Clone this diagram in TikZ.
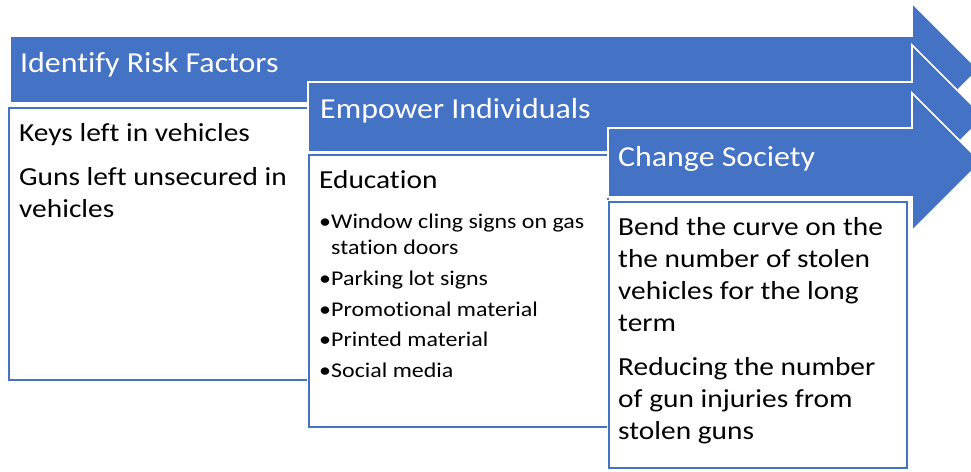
\documentclass[tikz,border=0pt]{standalone}
\usepackage{fontspec}
\setmainfont{Carlito}[Ligatures=NoCommon]
\newfontfamily\hdrfont{Carlito}[FakeStretch=1.10, Ligatures=NoCommon]
\newfontfamily\bodyfont{Carlito}[FakeStretch=1.13, Ligatures=NoCommon]
\newfontfamily\smallfont{Carlito}[FakeStretch=1.14, Ligatures=NoCommon]
\definecolor{ablue}{HTML}{4472C4}
\tikzset{
  arrowshape/.style={fill=ablue, draw=white, line width=1.6pt, line join=miter},
  boxouter/.style={fill=white, draw=white, line width=4pt},
  boxinner/.style={draw=ablue, line width=1.6pt},
  hdr/.style={font=\hdrfont\fontsize{29}{35}\selectfont, text=white, inner sep=0pt, anchor=base west},
  body/.style={font=\bodyfont\fontsize{26}{32}\selectfont, text=black, inner sep=0pt, anchor=base west},
  small/.style={font=\smallfont\fontsize{21}{26}\selectfont, text=black, inner sep=0pt, anchor=base west},
}
\begin{document}
\begin{tikzpicture}[x=1pt,y=-1pt]
\useasboundingbox (0,0) rectangle (971,471);
\fill[white] (0,0) rectangle (971,471);
\clip (0,0) rectangle (971,471);
% arrow 1
\draw[arrowshape] (10,36) -- (912,36) -- (912,3) -- (978.5,69.5) -- (912,136) -- (912,103) -- (10,103) -- cycle;
% box 1
\draw[boxouter] (9,108) rectangle (308,380);
\draw[boxinner] (9,108) rectangle (308,380);
% arrow 2
\draw[arrowshape] (308,82) -- (912,82) -- (912,45) -- (984,117) -- (912,189) -- (912,152) -- (308,152) -- cycle;
% box 2
\draw[boxouter] (309,155) rectangle (608,427);
\draw[boxinner] (309,155) rectangle (608,427);
% arrow 3
\draw[arrowshape] (608,128) -- (912,128) -- (912,93) -- (981,162) -- (912,231) -- (912,197) -- (608,197) -- cycle;
% box 3
\draw[boxouter] (609,202) rectangle (907,468);
\draw[boxinner] (609,202) rectangle (907,468);
% headers
\node[hdr] (h1) at (20,72) {Identify Risk Factors};
\node[hdr] (h2) at (320,118) {Empower Individuals};
\node[hdr] (h3) at (618,166) {Change Society};
% box 1 text
\node[body] (a1) at (19,141) {Keys left in vehicles};
\node[body] (a2) at (19,185) {Guns left unsecured in};
\node[body] (a3) at (19,217) {vehicles};
% box 2 text
\node[body] (b0) at (319,188) {Education};
\node[small] (bb1) at (319,228) {•};
\node[small] (b1) at (331,228) {Window cling signs on gas};
\node[small] (b1b) at (331,254) {station doors};
\node[small] (bb2) at (319,285) {•};
\node[small] (b2) at (331,285) {Parking lot signs};
\node[small] (bb3) at (319,316) {•};
\node[small] (b3) at (331,316) {Promotional material};
\node[small] (bb4) at (319,346) {•};
\node[small] (b4) at (331,346) {Printed material};
\node[small] (bb5) at (319,377) {•};
\node[small] (b5) at (331,377) {Social media};
% box 3 text
\node[body] (c1) at (618,235) {Bend the curve on the};
\node[body] (c2) at (618,267) {the number of stolen};
\node[body] (c3) at (618,299) {vehicles for the long};
\node[body] (c4) at (618,331) {term};
\node[body] (c5) at (618,375) {Reducing the number};
\node[body] (c6) at (618,407) {of gun injuries from};
\node[body] (c7) at (618,439) {stolen guns};
\end{tikzpicture}
\end{document}
